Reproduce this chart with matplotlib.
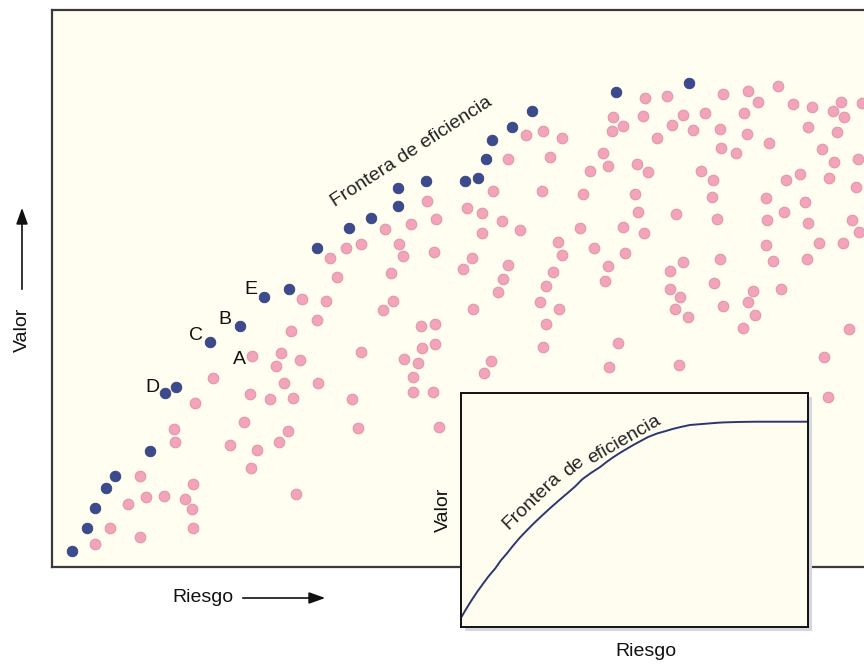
import matplotlib
matplotlib.use("Agg")
import matplotlib.pyplot as plt
from matplotlib.patches import Rectangle, FancyArrowPatch

plt.rcParams["font.family"] = ["Liberation Sans", "DejaVu Sans"]

W, H = 864, 665

# carteras sobre la frontera (azul)
FRONTERA_RIESGO = [20, 35, 43, 54, 63, 98, 113, 124, 158, 188, 212, 237, 265, 297, 319,
                   346, 346, 374, 413, 426, 434, 440, 460, 480, 564, 637]
FRONTERA_VALOR = [16, 39, 59, 79, 91, 116, 174, 180, 225, 241, 270, 278, 319, 339, 349,
                  361, 379, 386, 386, 389, 408, 427, 440, 456, 475, 484]

# resto de carteras (rosa)
CARTERA_RIESGO = [
    43, 58, 88, 76, 88, 94, 112, 133, 140, 141, 141, 122, 123, 143, 161, 178, 192, 198,
    200, 205, 199, 224, 229, 239, 248, 232, 266, 265, 218, 241, 236, 227, 244, 250, 274,
    278, 285, 294, 309, 300, 306, 309, 331, 341, 339, 333, 347, 351, 359, 375, 384, 382,
    369, 383, 370, 383, 352, 366, 361, 361, 381, 387,
    415, 430, 430, 420, 411, 441, 450, 456, 456, 451, 446, 468, 474, 491, 510, 498, 490,
    506, 510, 501, 494, 488, 531, 528, 538, 542, 421, 507, 494, 491, 566, 439, 432, 557, 627,
    551, 556, 561, 560, 571, 593, 615, 591, 631, 653, 620, 641, 605, 585, 596, 583, 586,
    571, 592, 573, 556, 553,
    671, 696, 726, 706, 741, 760, 789, 810, 781, 792, 692, 668, 695, 756, 785, 669, 684,
    717, 770, 649, 661, 782, 806, 734, 748, 777, 804, 660, 714, 753, 732, 624, 665, 715,
    756, 800, 807, 714, 767, 791, 721, 755, 631, 618, 668, 662, 618, 628, 701, 729, 671,
    696, 623, 636, 703, 691, 797, 772, 776]
CARTERA_VALOR = [
    23, 39, 30, 63, 91, 70, 71, 68, 58, 83, 39, 138, 125, 164, 189, 122, 145, 173,
    211, 117, 99, 201, 214, 236, 207, 184, 184, 247, 168, 169, 136, 125, 73, 268, 266,
    309, 290, 319, 323, 168, 139, 215, 257, 266, 294, 338, 323, 311, 343, 366, 348, 315,
    241, 243, 219, 223, 208, 204, 190, 175, 175, 140,
    359, 354, 334, 309, 298, 376, 346, 408, 302, 288, 275, 337, 432, 436, 429, 410, 376,
    325, 312, 295, 281, 265, 373, 339, 396, 319, 258, 258, 243, 220, 224, 206, 194, 200, 202,
    414, 401, 450, 436, 441, 469, 471, 451, 452, 454, 442, 437, 429, 403, 395, 373, 355,
    340, 334, 314, 301, 286,
    473, 476, 481, 465, 463, 460, 465, 464, 456, 450, 454, 438, 433, 440, 435, 419, 414,
    424, 418, 396, 387, 405, 408, 387, 393, 389, 380, 370, 369, 365, 355, 353, 348, 347,
    344, 347, 335, 322, 324, 324, 306, 308, 305, 296, 308, 284, 278, 270, 276, 278, 261,
    265, 258, 250, 252, 239, 238, 210, 170]

# letras junto a algunas carteras: (letra, riesgo, valor, desplazamiento en px)
LETRAS = [("E", 212, 270, (-13, 8)), ("B", 188, 241, (-15, 6)), ("C", 158, 225, (-14, 6)),
          ("A", 200, 211, (-13, -4)), ("D", 113, 174, (-13, 5))]

# curva del recuadro (escala 0-1)
CURVA_X = [0, 0.015, 0.03, 0.047, 0.065, 0.08, 0.10, 0.115, 0.133, 0.15, 0.17, 0.19,
           0.210, 0.235, 0.26, 0.283, 0.306, 0.33, 0.35, 0.375, 0.402, 0.42, 0.44, 0.46,
           0.479, 0.50, 0.52, 0.54, 0.566, 0.59, 0.61, 0.635, 0.660, 0.685, 0.71, 0.735,
           0.756, 0.78, 0.80, 0.85, 0.900, 1.0]
CURVA_Y = [0.036, 0.074, 0.11, 0.148, 0.185, 0.215, 0.25, 0.282, 0.313, 0.345, 0.38, 0.411,
           0.441, 0.476, 0.51, 0.54, 0.569, 0.60, 0.63, 0.657, 0.683, 0.704, 0.725, 0.744,
           0.761, 0.779, 0.795, 0.811, 0.826, 0.836, 0.845, 0.854, 0.862, 0.865, 0.868, 0.871,
           0.873, 0.874, 0.875, 0.876, 0.876, 0.876]

FONDO = "#fffef1"
ROSA = "#f2a5ba"
AZUL = "#3c4a8e"


def px(x, y):
    """pixel (desde arriba-izquierda) -> fraccion de figura"""
    return x / W, (H - y) / H


def flecha(p0, p1):
    fig.add_artist(FancyArrowPatch(px(*p0), px(*p1), transform=fig.transFigure,
                                   arrowstyle="-|>,head_length=0.7,head_width=0.25",
                                   mutation_scale=14, color="#111111", lw=1.2))


fig = plt.figure(figsize=(W / 100, H / 100), dpi=100)

ax = fig.add_axes([52 / W, (H - 567) / H, (W - 52) / W, 557 / H])
ax.set_facecolor(FONDO)
ax.scatter(CARTERA_RIESGO, CARTERA_VALOR, s=58, color=ROSA, edgecolor="#e596ab",
           linewidth=0.8, zorder=2)
ax.scatter(FRONTERA_RIESGO, FRONTERA_VALOR, s=58, color=AZUL, edgecolor="#34407c",
           linewidth=0.6, zorder=3)
for letra, r, v, off in LETRAS:
    ax.annotate(letra, (r, v), xytext=(off[0] * 0.72, off[1] * 0.72),
                textcoords="offset points", ha="center", va="center",
                fontsize=14, color="#111111")
ax.set_xlim(0, 812)
ax.set_ylim(0, 557)
ax.set_xticks([]); ax.set_yticks([])
ax.spines["right"].set_visible(False)
for s in ("left", "top", "bottom"):
    ax.spines[s].set_color("#3a3a3a")
    ax.spines[s].set_linewidth(1.6)

fig.text(*px(412, 152), "Frontera de eficiencia", rotation=33, ha="center", va="center",
         fontsize=14, color="#222222", rotation_mode="anchor")

# ejes de la figura con flechas
fig.text(*px(203, 598), "Riesgo", ha="center", va="center", fontsize=14, color="#111111")
flecha((240, 598), (328, 598))
fig.text(*px(22, 330), "Valor", rotation=90, ha="center", va="center", fontsize=14,
         color="#111111")
flecha((22, 292), (22, 205))

# recuadro con la curva idealizada
il, it, ir, ib = 460.7, 392.7, 808, 626.7
sombra = Rectangle(px(il + 4, ib + 4), (ir - il) / W, (ib - it) / H, transform=fig.transFigure,
                   facecolor="#d4d6e0", edgecolor="none", zorder=4)
fig.add_artist(sombra)
ins = fig.add_axes([il / W, (H - ib) / H, (ir - il) / W, (ib - it) / H], zorder=5)
ins.set_facecolor("#fffdf0")
ins.plot(CURVA_X, CURVA_Y, color="#2c376f", lw=1.4)
ins.set_xlim(0, 1); ins.set_ylim(0, 1)
ins.set_xticks([]); ins.set_yticks([])
for s in ins.spines.values():
    s.set_color("#111111")
    s.set_linewidth(1.4)
for palabra, x, y, rot in (("Frontera", 0.205, 0.535, 44), ("de", 0.325, 0.683, 39),
                           ("eficiencia", 0.470, 0.800, 30)):
    ins.text(x, y, palabra, rotation=rot, ha="center", va="center", fontsize=14,
             color="#222222", rotation_mode="anchor")
fig.text(*px(443, 510), "Valor", rotation=90, ha="center", va="center", fontsize=14,
         color="#111111")
fig.text(*px(646, 651), "Riesgo", ha="center", va="center", fontsize=14, color="#111111")

fig.savefig("out.png", dpi=100, facecolor="white")
